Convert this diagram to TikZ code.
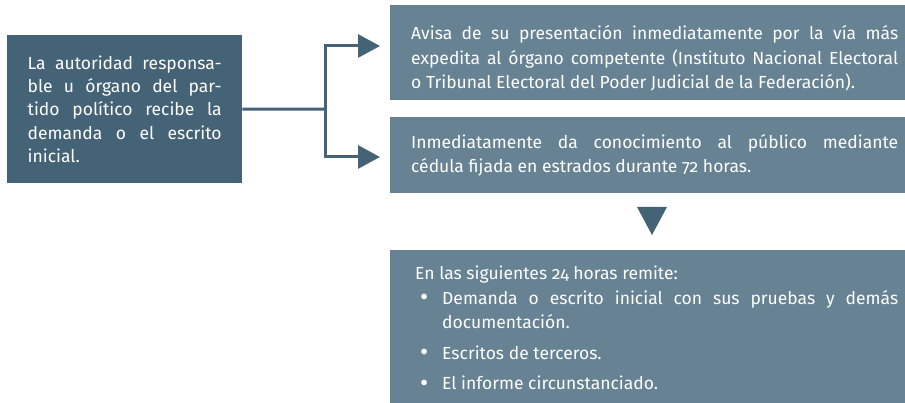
\documentclass[tikz,border=0pt]{standalone}
\usepackage{fontspec}
\setmainfont{Fira Sans}[Numbers=OldStyle]
\usetikzlibrary{arrows.meta,positioning}
\definecolor{boxdark}{HTML}{456377}
\definecolor{boxlight}{HTML}{678393}
\newcommand{\bul}{\makebox[27pt][l]{\hspace{5pt}\raisebox{-1.5pt}{\fontsize{25}{0}\selectfont\textbullet}}}

\begin{document}
\begin{tikzpicture}[x=1pt,y=-1pt,
    every node/.style={font=\fontsize{17.5}{24.5}\selectfont,text=white,inner ysep=0pt},
    darkbox/.style={fill=boxdark,anchor=north west,align=justify,inner xsep=20.5pt},
    lightbox/.style={fill=boxlight,anchor=north west,align=justify,inner xsep=21pt,text width=487pt},
    link/.style={draw=boxdark,line width=3pt},
    tipped/.style={-{Triangle[length=22pt,width=23pt]}}]
		\useasboundingbox (0,0) rectangle (905,403);

		% boxes
		\node[darkbox, text width=194pt, minimum height=148pt, font=\fontsize{17.5}{23.3}\selectfont] (src) at (7,35)
			{La autoridad responsa-\linebreak ble u órgano del par-\linebreak tido político recibe la\linebreak demanda o el escrito\linebreak inicial.};
		\node[fill=boxlight, anchor=north west, inner xsep=21pt, minimum height=95pt] (av) at (390,5)
			{\raisebox{-6pt}[\height][\depth]{\parbox{487pt}{Avisa de su presentación inmediatamente por la vía más\linebreak expedita al órgano competente (Instituto Nacional Electoral\linebreak o Tribunal Electoral del Poder Judicial de la Federación).}}};
		\node[lightbox, minimum height=76pt] (ced) at (390,117)
			{Inmediatamente da conocimiento al público mediante\linebreak cédula fijada en estrados durante 72 horas.};
		\node[lightbox, inner xsep=25pt, text width=483pt, inner ysep=16pt] (rem) at (390,250)
			{\parindent=0pt En las siguientes 24 horas remite:\par
			 \hangindent=27pt\hangafter=1 \bul Demanda o escrito inicial con sus pruebas y demás\linebreak documentación.\par
			 \vspace{6pt}
			 \hangindent=27pt\hangafter=1 \bul Escritos de terceros.\par
			 \vspace{6pt}
			 \hangindent=27pt\hangafter=1 \bul El informe circunstanciado.\par
			 \vspace{20pt}};

		% connectors
		\coordinate (fork) at (325,109);
		\coordinate (tipA) at (380,46);
		\coordinate (tipB) at (380,157);
		\draw[link] (src.east) -- (fork);
		\draw[link,tipped] (fork) |- (tipA);
		\draw[link,tipped] (fork) |- (tipB);

		\coordinate (dn) at (652,207);
		\fill[boxdark] (dn) -- ++(15,0) -- ++(-15,28) -- ++(-15,-28) -- cycle;
	\end{tikzpicture}
\end{document}
